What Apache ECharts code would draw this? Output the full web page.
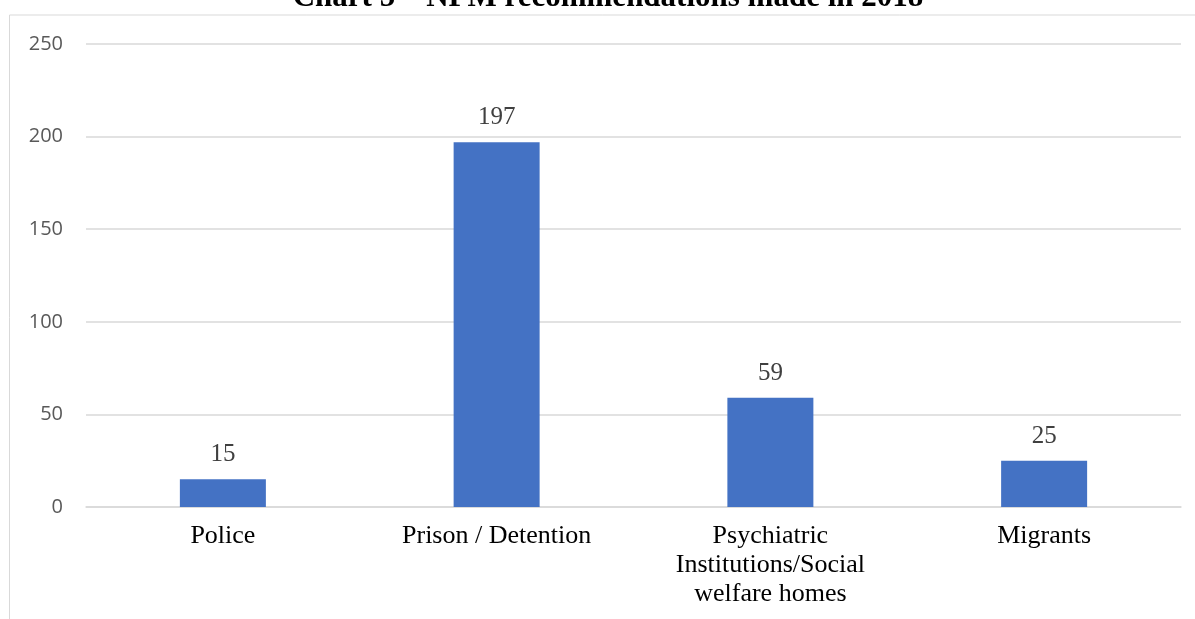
<!DOCTYPE html>
<html>
<head>
<meta charset="utf-8">
<script src="https://cdn.jsdelivr.net/npm/echarts@6/dist/echarts.min.js"></script>
<style>
html,body{margin:0;padding:0;background:#fff;}
#chart{width:1195px;height:619px;}
</style>
</head>
<body>
<div id="chart"></div>
<script>
var titleText = 'Chart 5 \u2013 NPM recommendations made in 2018';
var categories = ['Police', 'Prison / Detention', 'Psychiatric\nInstitutions/Social\nwelfare homes', 'Migrants'];
var values = [15, 197, 59, 25];
var yTicks = {min: 0, max: 250, interval: 50};

var chart = echarts.init(document.getElementById('chart'), null, {renderer: 'canvas'});
chart.setOption({
  animation: false,
  backgroundColor: '#ffffff',
  graphic: [
    {type: 'rect', silent: true, z: -1,
     shape: {x: 9.5, y: 15, width: 1400, height: 800},
     style: {fill: 'none', stroke: '#d9d9d9', lineWidth: 1}},
    {type: 'text', silent: true,
     x: 608, y: 13,
     style: {text: titleText, fill: '#000', align: 'center', verticalAlign: 'bottom',
             font: 'bold 31px "Liberation Serif"'}}
  ],
  grid: {left: 86, right: 14, top: 44, bottom: 112, containLabel: false},
  xAxis: {
    type: 'category',
    data: categories,
    axisLine: {show: true, lineStyle: {color: '#d9d9d9', width: 1.5}},
    axisTick: {show: false},
    axisLabel: {color: '#000', fontFamily: 'Liberation Serif', fontSize: 26, lineHeight: 29, margin: 15, interval: 0}
  },
  yAxis: {
    type: 'value',
    min: yTicks.min, max: yTicks.max, interval: yTicks.interval,
    axisLine: {show: false},
    axisTick: {show: false},
    splitLine: {lineStyle: {color: '#d9d9d9', width: 1.5}},
    axisLabel: {color: '#595959', fontFamily: 'Open Sans', fontSize: 20, margin: 23}
  },
  series: [{
    type: 'bar',
    data: values,
    barWidth: 86,
    itemStyle: {color: '#4472C4'},
    label: {show: true, position: 'top', distance: 12, color: '#404040',
            fontFamily: 'Liberation Serif', fontSize: 25}
  }]
});
</script>
</body>
</html>
